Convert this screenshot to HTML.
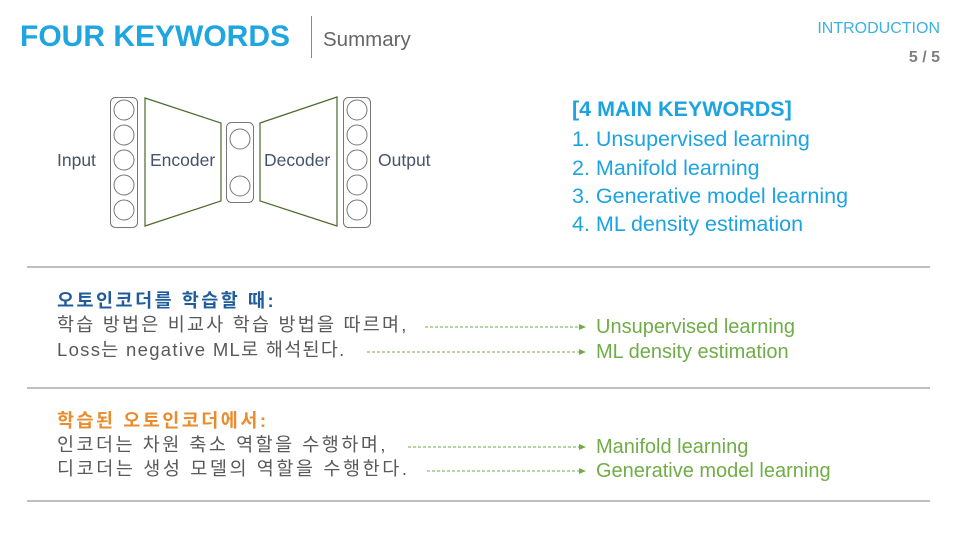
<!DOCTYPE html>
<html><head><meta charset="utf-8"><style>
body{margin:0;width:960px;height:540px;background:#fff;position:relative;overflow:hidden;font-family:"Liberation Sans","Noto Sans CJK KR",sans-serif}
.t{position:absolute;white-space:nowrap;line-height:1}
.g{color:#595959;font-size:18.5px}
.gr{color:#70ad47;font-size:20px}
.k{color:#1da3e0;font-size:21.5px}
</style></head><body>
<div class="t" style="left:20px;top:22px;font-size:30px;font-weight:bold;color:#1fa5e0">FOUR KEYWORDS</div>
<div style="position:absolute;left:311px;top:16px;width:1px;height:42px;background:#888"></div>
<div class="t" style="left:323px;top:30px;font-size:20.5px;color:#666">Summary</div>
<div class="t" style="right:20px;top:21px;font-size:16px;color:#3bb0e3">INTRODUCTION</div>
<div class="t" style="right:20px;top:50px;font-size:16px;font-weight:bold;color:#7f7f7f">5 / 5</div>

<svg style="position:absolute;left:0;top:0" width="960" height="540">
<g fill="none" stroke="#777" stroke-width="1">
<rect x="110.5" y="97.5" width="27" height="130" rx="5"/>
<rect x="226.5" y="122.5" width="27" height="80" rx="5"/>
<rect x="343.5" y="97.5" width="27" height="130" rx="5"/>
<circle cx="124" cy="110" r="10"/><circle cx="124" cy="135" r="10"/><circle cx="124" cy="160" r="10"/><circle cx="124" cy="185" r="10"/><circle cx="124" cy="210" r="10"/>
<circle cx="240" cy="139" r="10"/><circle cx="240" cy="186" r="10"/>
<circle cx="357" cy="110" r="10"/><circle cx="357" cy="135" r="10"/><circle cx="357" cy="160" r="10"/><circle cx="357" cy="185" r="10"/><circle cx="357" cy="210" r="10"/>
</g>
<g fill="none" stroke="#4a6a2a" stroke-width="1.2">
<polygon points="145,98 221,123 221,201 145,226"/>
<polygon points="260,123 337,97 337,226 260,201"/>
</g>
<g stroke="#aaa" stroke-width="1.5">
<line x1="27" y1="267" x2="930" y2="267"/>
<line x1="27" y1="388" x2="930" y2="388"/>
<line x1="27" y1="501" x2="930" y2="501"/>
</g>
<g stroke="#70ad47" stroke-width="1" stroke-dasharray="3,2" fill="none">
<line x1="425" y1="327" x2="580" y2="327"/>
<line x1="367" y1="352" x2="580" y2="352"/>
<line x1="408" y1="447" x2="580" y2="447"/>
<line x1="427" y1="471" x2="580" y2="471"/>
</g>
<g fill="#70ad47">
<polygon points="579,324 586,327 579,330"/>
<polygon points="579,349 586,352 579,355"/>
<polygon points="579,444 586,447 579,450"/>
<polygon points="579,468 586,471 579,474"/>
</g>
</svg>
<div class="t" style="left:57px;top:152px;font-size:17.5px;color:#44546a">Input</div>
<div class="t" style="left:150px;top:152px;font-size:17.5px;color:#44546a">Encoder</div>
<div class="t" style="left:264px;top:152px;font-size:17.5px;color:#44546a">Decoder</div>
<div class="t" style="left:378px;top:152px;font-size:17.5px;color:#44546a">Output</div>

<div class="t k" style="left:572px;top:99px;font-weight:bold">[4 MAIN KEYWORDS]</div>
<div class="t k" style="left:572px;top:129px">1. Unsupervised learning</div>
<div class="t k" style="left:572px;top:158px">2. Manifold learning</div>
<div class="t k" style="left:572px;top:186px">3. Generative model learning</div>
<div class="t k" style="left:572px;top:214px">4. ML density estimation</div>

<div class="t" style="left:57px;top:292px;font-size:18.5px;font-weight:bold;color:#1f5c99;letter-spacing:2.5px">오토인코더를 학습할 때:</div>
<div class="t g" style="left:57px;top:316px;letter-spacing:2.2px">학습 방법은 비교사 학습 방법을 따르며,</div>
<div class="t g" style="left:57px;top:341px;letter-spacing:1.3px">Loss는 negative ML로 해석된다.</div>
<div class="t gr" style="left:596px;top:317px">Unsupervised learning</div>
<div class="t gr" style="left:596px;top:342px">ML density estimation</div>

<div class="t" style="left:57px;top:412px;font-size:18.5px;font-weight:bold;color:#e98c2e;letter-spacing:2.5px">학습된 오토인코더에서:</div>
<div class="t g" style="left:57px;top:436px;letter-spacing:2.5px">인코더는 차원 축소 역할을 수행하며,</div>
<div class="t g" style="left:57px;top:460px;letter-spacing:2.6px">디코더는 생성 모델의 역할을 수행한다.</div>
<div class="t gr" style="left:596px;top:437px">Manifold learning</div>
<div class="t gr" style="left:596px;top:461px">Generative model learning</div>
</body></html>
